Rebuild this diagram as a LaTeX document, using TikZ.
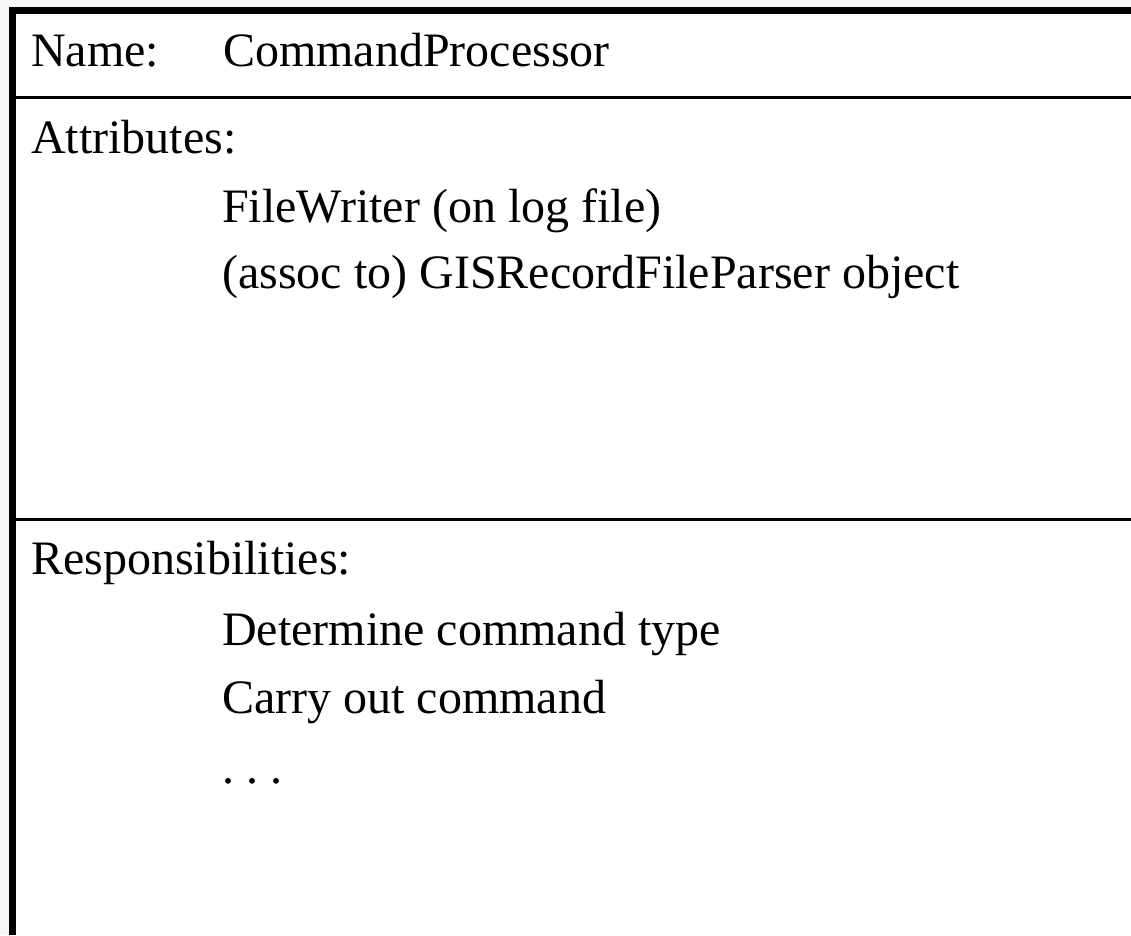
\documentclass[tikz,border=0pt]{standalone}
\usepackage{fontspec}
\setmainfont{Liberation Serif}
\definecolor{bgpage}{RGB}{247,247,247}
\begin{document}
\begin{tikzpicture}[x=1pt,y=-1pt,
  txt/.style={anchor=base west,inner sep=0pt,font=\fontsize{48}{57}\selectfont},
  border/.style={line width=7pt,black},
  sepline/.style={line width=3pt,black}]
\useasboundingbox (0,0) rectangle (1131,935);
\fill[bgpage] (0,0) rectangle (1131,935);
\fill[white] (9,7) rectangle (1131,935);
% outer border (left and top)
\coordinate (bl) at (12.5,935);
\coordinate (tl) at (12.5,10.5);
\coordinate (tr) at (1131,10.5);
\draw[border] (bl) -- (12.5,7) (9,10.5) -- (tr);
% separators
\coordinate (s1l) at (16,97.5);
\coordinate (s1r) at (1131,97.5);
\coordinate (s2l) at (16,519.5);
\coordinate (s2r) at (1131,519.5);
\draw[sepline] (s1l) -- (s1r);
\draw[sepline] (s2l) -- (s2r);
% texts
\node[txt] (name) at (31,66) {Name:};
\node[txt] (cls) at (223,66) {CommandProcessor};
\node[txt] (attr) at (31,153) {Attributes:};
\node[txt] (a1) at (222,222) {FileWriter (on log file)};
\node[txt] (a2) at (222,288) {(assoc to) GISRecordFileParser object};
\node[txt] (resp) at (31,574) {Responsibilities:};
\node[txt] (r1) at (222,645) {Determine command type};
\node[txt] (r2) at (222,713) {Carry out command};
\node[txt] (r3) at (222,783) {.\ .\ .};
\end{tikzpicture}
\end{document}
